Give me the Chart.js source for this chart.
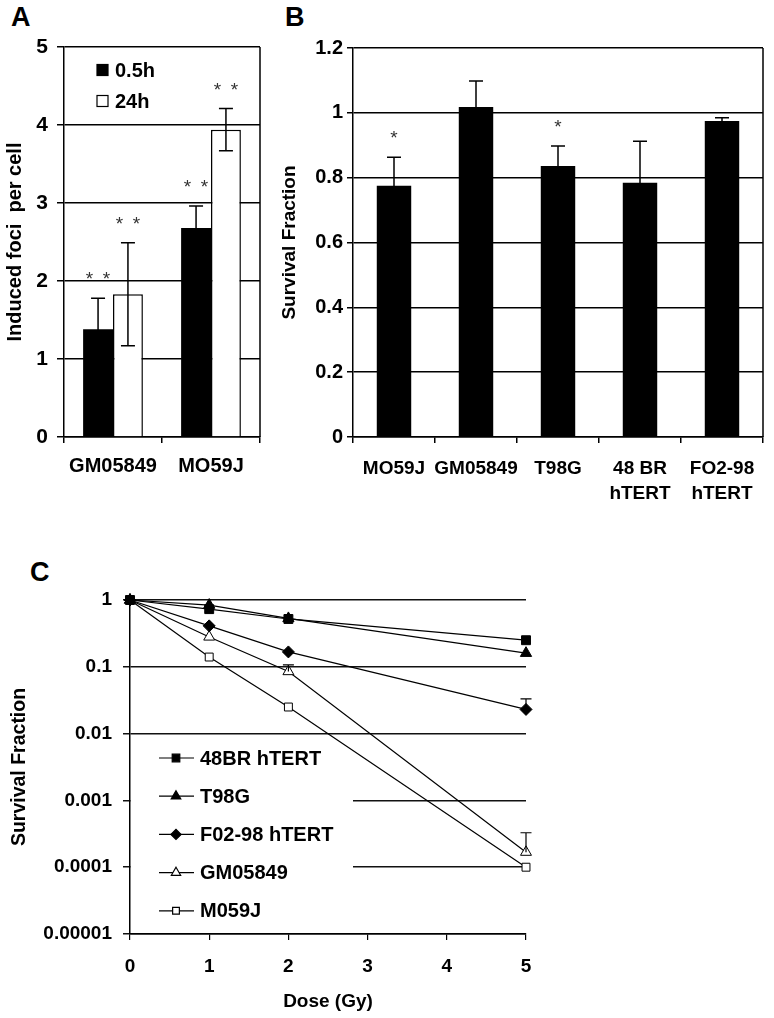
<!DOCTYPE html>
<html>
<head>
<meta charset="utf-8">
<script src="https://cdn.jsdelivr.net/npm/chart.js@4.4.1/dist/chart.umd.min.js"></script>
<style>
  html, body { margin: 0; padding: 0; background: #fff; }
  body { width: 774px; height: 1018px; position: relative; overflow: hidden; font-family: "Liberation Sans", Arial, sans-serif; }
  canvas { position: absolute; }
  .letter { position: absolute; font-weight: bold; font-size: 27px; color: #000; }
</style>
</head>
<body>
<div class="letter" style="left:11px; top:2px">A</div>
<div class="letter" style="left:285px; top:2px">B</div>
<div class="letter" style="left:30px; top:557px">C</div>
<canvas id="chartA" width="275" height="510" style="left:0; top:0"></canvas>
<canvas id="chartB" width="499" height="520" style="left:275px; top:0"></canvas>
<canvas id="chartC" width="560" height="488" style="left:0; top:530px"></canvas>
<script>
// ---- Panel A: induced foci per cell ----
const fociCells = ['GM05849', 'MO59J'];
const foci05h = [1.38, 2.68];
const foci05hErr = [0.40, 0.28];
const foci24h = [1.83, 3.94];
const foci24hErr = [0.66, 0.27];
const fociStars05h = [2, 2];
const fociStars24h = [2, 2];
const fociTicks = [0, 1, 2, 3, 4, 5];

// ---- Panel B: survival fraction per cell line ----
const survCells = ['MO59J', 'GM05849', 'T98G', ['48 BR', 'hTERT'], ['FO2-98', 'hTERT']];
const survValues = [0.775, 1.018, 0.836, 0.784, 0.975];
const survErr = [0.088, 0.080, 0.062, 0.128, 0.010];
const survStars = [1, 0, 1, 0, 0];
const survTicks = [0, 0.2, 0.4, 0.6, 0.8, 1, 1.2];
const survTickLabels = ['0', '0.2', '0.4', '0.6', '0.8', '1', '1.2'];

// ---- Panel C: survival curves ----
const doses = [0, 1, 2, 5];
const sf48BR = [1, 0.73, 0.52, 0.25];
const sfT98G = [1, 0.84, 0.53, 0.16];
const sfF0298 = [1, 0.41, 0.167, 0.023];
const sfGM05849 = [1, 0.28, 0.085, 0.000168];
const sfM059J = [1, 0.14, 0.025, 0.0001];
const errF0298 = [0, 0, 0, 0.010];
const errGM05849 = [0, 0, 0.022, 0.00016];
const logTicks = [1, 0.1, 0.01, 0.001, 0.0001, 0.00001];
const logTickLabels = ['1', '0.1', '0.01', '0.001', '0.0001', '0.00001'];
const doseTicks = [0, 1, 2, 3, 4, 5];

Chart.defaults.font.family = '"Liberation Sans", Arial, sans-serif';
Chart.defaults.color = '#000';
Chart.defaults.animation = false;

function fixWidth(w) { return scale => { scale.width = w; }; }
function fixHeight(h) { return scale => { scale.height = h; }; }
function setTicks(list) { return scale => { scale.ticks = list.map(v => ({ value: v })); }; }

// error bars and asterisks on the bar panels
const barExtras = {
  id: 'barExtras',
  afterDatasetsDraw(chart) {
    const ctx = chart.ctx;
    const yScale = chart.scales.y;
    chart.data.datasets.forEach((ds, i) => {
      const meta = chart.getDatasetMeta(i);
      meta.data.forEach((bar, j) => {
        const v = ds.data[j];
        const e = ds.errors ? ds.errors[j] : 0;
        const top = yScale.getPixelForValue(v + e);
        ctx.save();
        if (e) {
          const bot = yScale.getPixelForValue(v - e);
          ctx.strokeStyle = '#000';
          ctx.lineWidth = 1.5;
          ctx.beginPath();
          ctx.moveTo(bar.x, bot);
          ctx.lineTo(bar.x, top);
          ctx.moveTo(bar.x - 7, top);
          ctx.lineTo(bar.x + 7, top);
          ctx.moveTo(bar.x - 7, bot);
          ctx.lineTo(bar.x + 7, bot);
          ctx.stroke();
        }
        // asterisks, centred about 24px over the error cap
        const n = ds.stars ? ds.stars[j] : 0;
        ctx.fillStyle = '#333';
        ctx.font = '19px "Liberation Sans", Arial, sans-serif';
        ctx.textAlign = 'center';
        ctx.textBaseline = 'alphabetic';
        for (let k = 0; k < n; k++) {
          const sx = bar.x + (k - (n - 1) / 2) * 17;
          ctx.fillText('*', sx, top - 24 + 11);
        }
        ctx.restore();
      });
    });
  }
};

// right edge of the boxed panels
const rightBorder = {
  id: 'rightBorder',
  afterDraw(chart) {
    const { ctx, chartArea } = chart;
    ctx.save();
    ctx.strokeStyle = '#000';
    ctx.lineWidth = 1.5;
    ctx.beginPath();
    ctx.moveTo(chartArea.right, chartArea.top);
    ctx.lineTo(chartArea.right, chartArea.bottom);
    ctx.stroke();
    ctx.restore();
  }
};

// legend of panel A
const legendA = {
  id: 'legendA',
  afterDraw(chart) {
    const { ctx, chartArea } = chart;
    ctx.save();
    ctx.font = 'bold 20px "Liberation Sans", Arial, sans-serif';
    ctx.textBaseline = 'middle';
    chart.data.datasets.forEach((ds, i) => {
      const x = chartArea.left + 33;
      const y = chartArea.top + 23 + i * 31;
      ctx.fillStyle = ds.backgroundColor;
      ctx.fillRect(x, y - 5.5, 11, 11);
      ctx.strokeStyle = '#000';
      ctx.lineWidth = 1.2;
      ctx.strokeRect(x, y - 5.5, 11, 11);
      ctx.fillStyle = '#000';
      ctx.fillText(ds.label, x + 18, y + 1);
    });
    ctx.restore();
  }
};

const gridStyle = { color: '#000', lineWidth: 1.5, tickLength: 7 };

new Chart(document.getElementById('chartA'), {
  type: 'bar',
  data: {
    labels: fociCells,
    datasets: [
      { label: '0.5h', data: foci05h, errors: foci05hErr, stars: fociStars05h,
        backgroundColor: '#000', borderColor: '#000', borderWidth: 0 },
      { label: '24h', data: foci24h, errors: foci24hErr, stars: fociStars24h,
        backgroundColor: '#fff', borderColor: '#000', borderWidth: 1.5 }
    ]
  },
  options: {
    responsive: false,
    layout: { padding: { top: 47, right: 15, left: 0, bottom: 0 } },
    datasets: { bar: { categoryPercentage: 0.61, barPercentage: 1 } },
    plugins: { legend: { display: false }, tooltip: { enabled: false } },
    scales: {
      x: {
        grid: { display: true, drawOnChartArea: false, offset: true, color: '#000', lineWidth: 1.5, tickLength: 6 },
        border: { color: '#000', width: 1.5 },
        ticks: { font: { size: 20, weight: 'bold' }, padding: 11 },
        afterFit: fixHeight(73)
      },
      y: {
        min: 0, max: 5,
        afterBuildTicks: setTicks(fociTicks),
        grid: gridStyle,
        border: { color: '#000', width: 1.5 },
        ticks: { font: { size: 21, weight: 'bold' }, padding: 9 },
        title: { display: true, text: 'Induced foci  per cell', font: { size: 20, weight: 'bold' }, padding: { top: 3, bottom: 0 } },
        afterFit: fixWidth(64)
      }
    }
  },
  plugins: [barExtras, rightBorder, legendA]
});

new Chart(document.getElementById('chartB'), {
  type: 'bar',
  data: {
    labels: survCells,
    datasets: [
      { label: 'Survival', data: survValues, errors: survErr, stars: survStars,
        backgroundColor: '#000', borderColor: '#000', borderWidth: 0 }
    ]
  },
  options: {
    responsive: false,
    layout: { padding: { top: 48, right: 11, left: 0, bottom: 0 } },
    datasets: { bar: { categoryPercentage: 0.42, barPercentage: 1 } },
    plugins: { legend: { display: false }, tooltip: { enabled: false } },
    scales: {
      x: {
        grid: { display: true, drawOnChartArea: false, offset: true, color: '#000', lineWidth: 1.5, tickLength: 6 },
        border: { color: '#000', width: 1.5 },
        ticks: { font: { size: 19, weight: 'bold', lineHeight: 1.32 }, padding: 13, maxRotation: 0, autoSkip: false },
        afterFit: fixHeight(83)
      },
      y: {
        min: 0, max: 1.2,
        afterBuildTicks: setTicks(survTicks),
        grid: { color: '#000', lineWidth: 1.5, tickLength: 6 },
        border: { color: '#000', width: 1.5 },
        ticks: { font: { size: 20, weight: 'bold' }, padding: 4, callback: (v, i) => survTickLabels[i] },
        title: { display: true, text: 'Survival Fraction', font: { size: 19, weight: 'bold' }, padding: { top: 3, bottom: 0 } },
        afterFit: fixWidth(78)
      }
    }
  },
  plugins: [barExtras, rightBorder]
});

// ---- Panel C ----
const curveSeries = [
  { label: '48BR hTERT', values: sf48BR, style: 'rect', fill: '#000', radius: 6.3 },
  { label: 'T98G', values: sfT98G, style: 'triangle', fill: '#000', radius: 6.5 },
  { label: 'F02-98 hTERT', values: sfF0298, style: 'rectRot', fill: '#000', radius: 6, errors: errF0298 },
  { label: 'GM05849', values: sfGM05849, style: 'triangle', fill: '#fff', radius: 6.3, errors: errGM05849 },
  { label: 'M059J', values: sfM059J, style: 'rect', fill: '#fff', radius: 5.6 }
];

// white legend panel covers the grid, then curves, then entries
const legendC = {
  id: 'legendC',
  beforeDatasetsDraw(chart) {
    const { ctx, chartArea } = chart;
    ctx.save();
    ctx.fillStyle = '#fff';
    ctx.fillRect(chartArea.left + 1, chartArea.top + 138, 222, 190);
    ctx.restore();
  },
  afterDatasetsDraw(chart) {
    const { ctx, chartArea } = chart;
    ctx.save();
    ctx.font = 'bold 20px "Liberation Sans", Arial, sans-serif';
    ctx.textBaseline = 'middle';
    chart.data.datasets.forEach((ds, i) => {
      const y = chartArea.top + 158 + i * 38.2;
      const x0 = chartArea.left + 29;
      ctx.strokeStyle = '#000';
      ctx.lineWidth = 1.2;
      ctx.beginPath();
      ctx.moveTo(x0, y);
      ctx.lineTo(x0 + 35, y);
      ctx.stroke();
      ctx.fillStyle = ds.pointBackgroundColor;
      ctx.strokeStyle = '#000';
      Chart.helpers.drawPoint(ctx, { pointStyle: ds.pointStyle, radius: ds.pointRadius * 0.85, rotation: 0, borderWidth: 1 }, x0 + 17, y);
      ctx.fillStyle = '#000';
      ctx.fillText(ds.label, x0 + 41, y + 1);
    });
    ctx.restore();
  },
  afterDraw(chart) {
    // upward error bars
    const { ctx } = chart;
    const xs = chart.scales.x, ys = chart.scales.y;
    ctx.save();
    ctx.strokeStyle = '#000';
    ctx.lineWidth = 1.2;
    chart.data.datasets.forEach(ds => {
      if (!ds.errors) return;
      ds.data.forEach((p, j) => {
        const e = ds.errors[j];
        if (!e) return;
        const x = xs.getPixelForValue(p.x);
        const y1 = ys.getPixelForValue(p.y);
        const y2 = ys.getPixelForValue(p.y + e);
        ctx.beginPath();
        ctx.moveTo(x, y1);
        ctx.lineTo(x, y2);
        ctx.moveTo(x - 5.5, y2);
        ctx.lineTo(x + 5.5, y2);
        ctx.stroke();
      });
    });
    ctx.restore();
  }
};

new Chart(document.getElementById('chartC'), {
  type: 'line',
  data: {
    datasets: curveSeries.map(s => ({
      label: s.label,
      data: doses.map((d, j) => ({ x: d, y: s.values[j] })),
      errors: s.errors,
      borderColor: '#000',
      borderWidth: 1.2,
      pointStyle: s.style,
      pointRadius: s.radius,
      pointBackgroundColor: s.fill,
      pointBorderColor: '#000',
      pointBorderWidth: 1,
      tension: 0,
      fill: false,
      clip: false
    }))
  },
  options: {
    responsive: false,
    layout: { padding: { top: 70, right: 34, left: 0, bottom: 0 } },
    plugins: { legend: { display: false }, tooltip: { enabled: false } },
    scales: {
      x: {
        type: 'linear', min: 0, max: 5,
        afterBuildTicks: setTicks(doseTicks),
        grid: { display: true, drawOnChartArea: false, color: '#000', lineWidth: 1.2, tickLength: 6 },
        border: { color: '#000', width: 1.5 },
        ticks: { font: { size: 19, weight: 'bold' }, padding: 15 },
        title: { display: true, text: 'Dose (Gy)', font: { size: 19, weight: 'bold' }, padding: { top: 0, bottom: 5 } },
        afterFit: fixHeight(84)
      },
      y: {
        type: 'logarithmic', min: 0.00001, max: 1,
        afterBuildTicks: setTicks(logTicks),
        grid: { color: '#111', lineWidth: 1.5, tickLength: 7 },
        border: { color: '#000', width: 1.5 },
        ticks: {
          font: { size: 19, weight: 'bold' }, padding: 11,
          callback: (v, i) => logTickLabels[i]
        },
        title: { display: true, text: 'Survival Fraction', font: { size: 19.5, weight: 'bold' }, padding: { top: 8, bottom: 0 } },
        afterFit: fixWidth(130)
      }
    }
  },
  plugins: [legendC]
});
</script>
</body>
</html>
